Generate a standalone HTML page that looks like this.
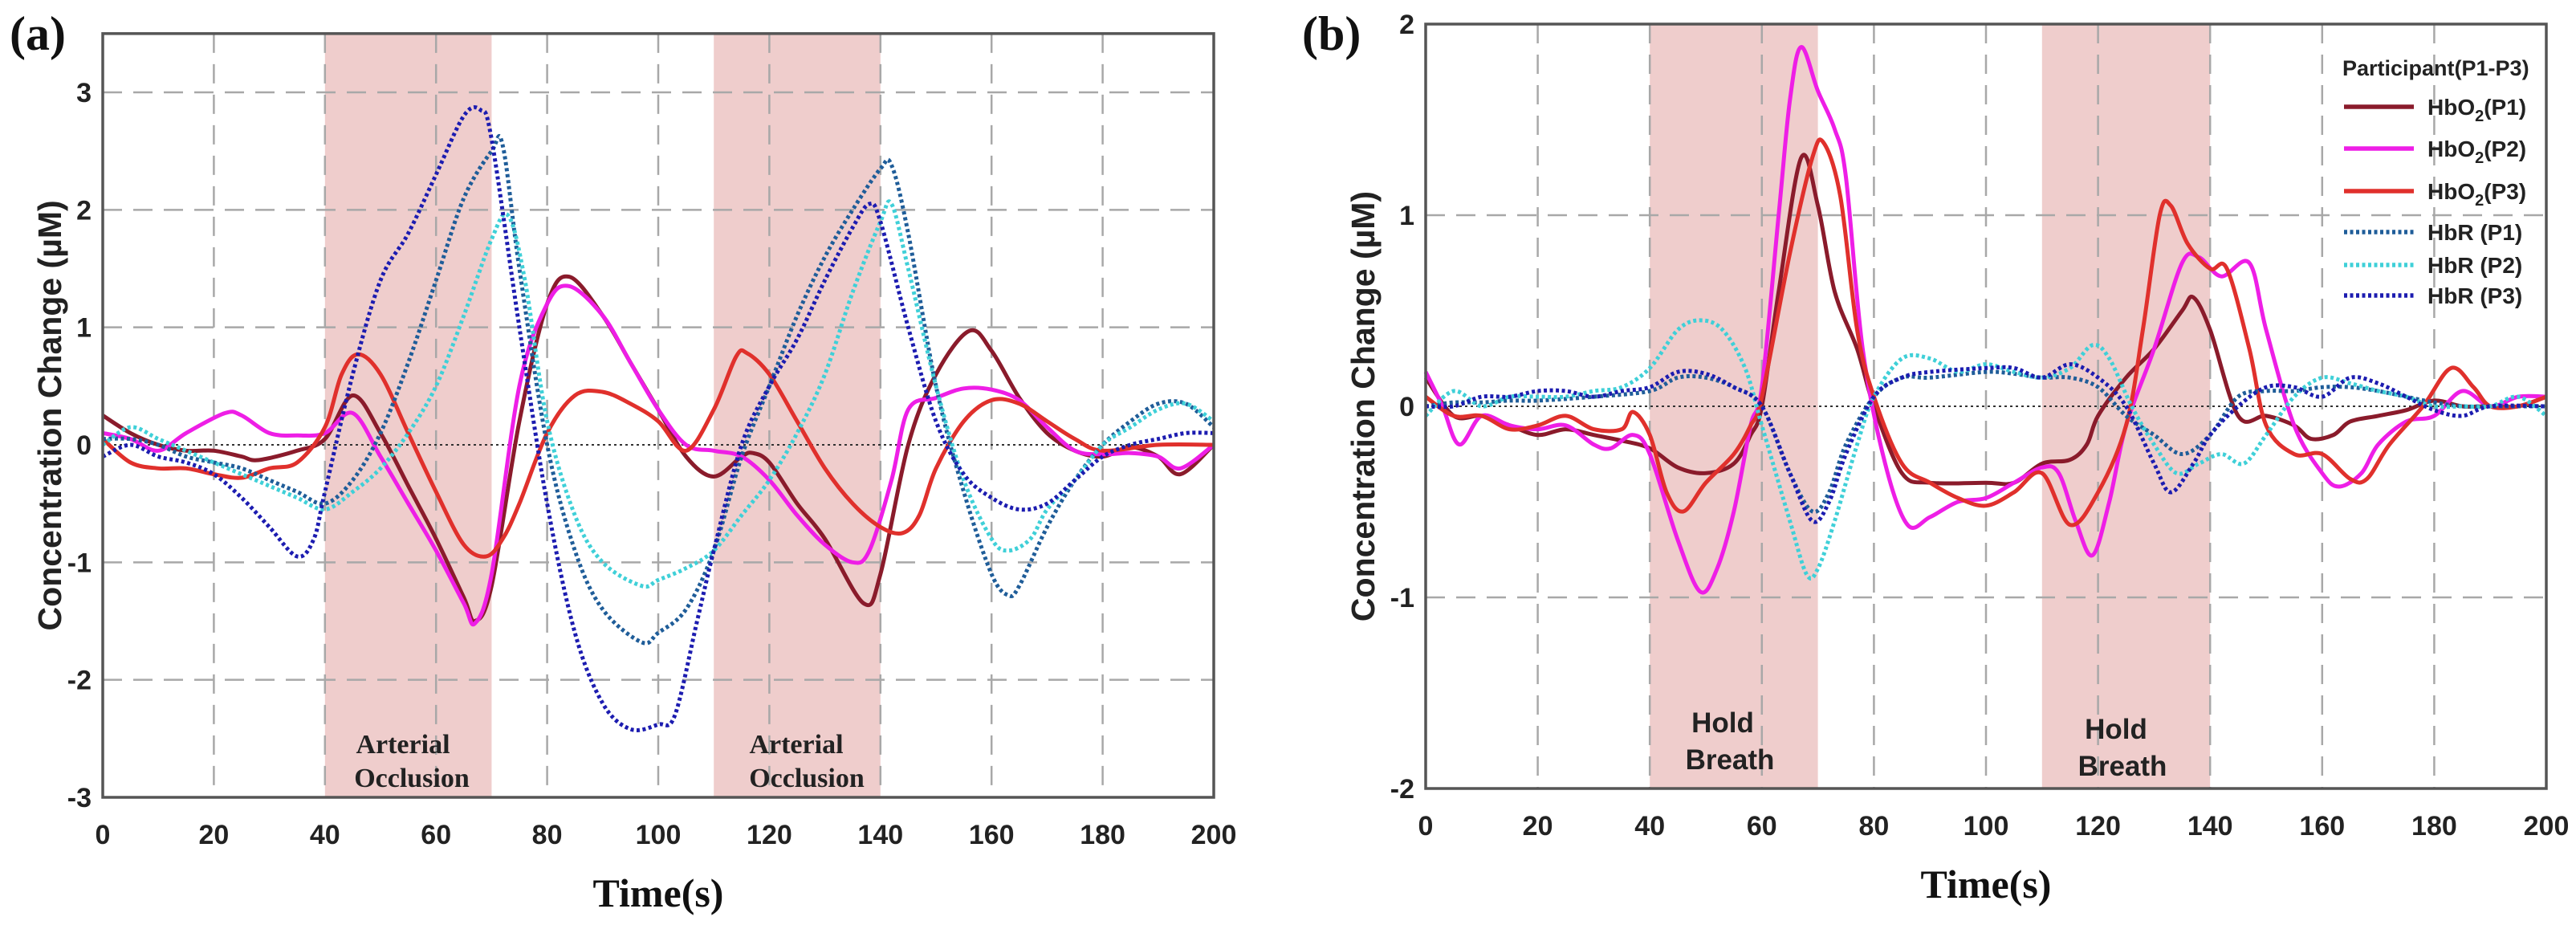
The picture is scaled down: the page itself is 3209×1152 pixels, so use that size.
<!DOCTYPE html>
<html><head><meta charset="utf-8"><style>
body{margin:0;background:#fff;}
svg{display:block;}
</style></head><body>
<svg id="chart" width="3209" height="1152" viewBox="0 0 3209 1152" xmlns="http://www.w3.org/2000/svg"></svg>
<script>
// ---------- Panel (a) data ----------
const aHbO2P1T=[0,5,10,15,20,25,28,35,40,45,50,55,60,65,67,70,75,80,84,90,95,100,105,110,115,117,120,125,130,137,140,145,150,156,160,165,170,175,180,185,190,194,200];
const aHbO2P1V=[0.25,0.1,0,-0.05,-0.05,-0.1,-0.13,-0.05,0.05,0.42,0.1,-0.35,-0.8,-1.3,-1.5,-1.2,0.2,1.2,1.43,1.1,0.7,0.3,-0.1,-0.27,-0.1,-0.07,-0.15,-0.5,-0.8,-1.35,-1.1,0,0.6,0.97,0.8,0.4,0.1,-0.05,-0.1,-0.02,-0.1,-0.25,0];
const aHbO2P2T=[0,5,10,15,22,25,30,35,40,45,50,55,60,65,67,70,75,80,84,90,95,100,105,110,115,120,125,130,135,138,142,145,150,155,160,165,170,175,180,185,190,194,200];
const aHbO2P2V=[0.1,0.05,-0.05,0.1,0.27,0.25,0.1,0.08,0.1,0.27,-0.1,-0.5,-0.9,-1.35,-1.52,-1.1,0.5,1.2,1.35,1.1,0.7,0.3,0,-0.05,-0.1,-0.3,-0.6,-0.85,-1,-0.9,-0.3,0.3,0.4,0.48,0.47,0.38,0.15,-0.05,-0.08,-0.07,-0.1,-0.2,0];
const aHbO2P3T=[0,5,10,15,20,25,30,35,40,43,46,50,55,60,65,69,72,75,80,85,90,95,100,105,110,114,116,120,125,130,135,140,144,147,150,155,160,165,170,175,180,190,200];
const aHbO2P3V=[0.05,-0.15,-0.2,-0.2,-0.25,-0.28,-0.2,-0.15,0.15,0.6,0.77,0.6,0.1,-0.4,-0.85,-0.95,-0.8,-0.5,0.1,0.42,0.45,0.35,0.2,-0.05,0.3,0.75,0.78,0.6,0.2,-0.2,-0.5,-0.7,-0.75,-0.6,-0.2,0.2,0.38,0.35,0.2,0.05,-0.05,0,0];
const aHbRP1T=[0,5,10,15,20,25,30,35,40,45,50,55,60,65,70,72,75,80,85,90,97,100,105,110,115,120,125,130,135,140,142,145,150,155,160,163,165,170,175,180,185,190,195,200];
const aHbRP1V=[0.05,0.05,0,-0.1,-0.15,-0.2,-0.3,-0.4,-0.5,-0.3,0.1,0.7,1.4,2.1,2.5,2.55,1.5,0,-0.9,-1.4,-1.68,-1.6,-1.4,-0.9,-0.1,0.5,1.1,1.6,2,2.35,2.38,1.8,0.5,-0.4,-1.1,-1.28,-1.2,-0.7,-0.3,0,0.2,0.35,0.35,0.15];
const aHbRP2T=[0,5,10,15,20,25,30,35,40,45,50,55,60,65,70,73,76,80,85,90,97,100,105,110,115,120,125,130,135,140,142,145,150,155,160,163,167,170,175,180,185,190,195,200];
const aHbRP2V=[0,0.15,0.05,-0.05,-0.15,-0.25,-0.35,-0.45,-0.55,-0.4,-0.2,0.1,0.5,1.1,1.75,1.95,1.4,0.2,-0.6,-1,-1.2,-1.15,-1.05,-0.9,-0.6,-0.3,0.1,0.6,1.3,1.9,2.05,1.5,0.5,-0.3,-0.8,-0.9,-0.8,-0.55,-0.3,0,0.15,0.3,0.35,0.2];
const aHbRP3T=[0,5,10,15,20,25,30,35,38,40,45,50,55,60,65,68,70,75,80,85,90,95,100,103,107,110,115,120,125,130,135,138,140,145,150,155,160,165,170,175,180,185,190,195,200];
const aHbRP3V=[-0.1,0,-0.1,-0.15,-0.25,-0.45,-0.7,-0.95,-0.8,-0.4,0.6,1.4,1.8,2.3,2.8,2.85,2.6,1,-0.5,-1.6,-2.2,-2.42,-2.38,-2.3,-1.5,-0.9,0,0.5,0.9,1.4,1.85,2.05,1.9,1,0.2,-0.25,-0.45,-0.55,-0.5,-0.3,-0.1,0,0.05,0.1,0.1];
// ---------- Panel (b) data ----------
const bHbO2P1T=[0,5,10,15,20,25,30,35,40,45,50,55,58,60,63,67,70,73,77,80,85,90,100,105,110,115,118,120,125,130,135,137,140,145,150,155,158,162,165,170,175,180,185,190,195,200];
const bHbO2P1V=[0.15,-0.05,-0.05,-0.1,-0.15,-0.12,-0.15,-0.18,-0.22,-0.32,-0.35,-0.3,-0.15,0,0.6,1.3,1.05,0.6,0.3,0,-0.35,-0.4,-0.4,-0.4,-0.3,-0.28,-0.2,-0.05,0.15,0.3,0.5,0.57,0.4,-0.05,-0.05,-0.1,-0.17,-0.15,-0.08,-0.05,-0.02,0.03,0,0,0,0.05];
const bHbO2P2T=[0,3,6,10,15,20,25,30,33,37,40,45,49,52,55,58,60,63,65,67,70,73,75,78,82,86,90,95,100,105,110,113,116,119,122,125,130,135,138,142,147,150,155,160,163,167,170,175,180,185,190,195,200];
const bHbO2P2V=[0.18,0,-0.2,-0.05,-0.1,-0.12,-0.1,-0.2,-0.22,-0.15,-0.25,-0.7,-0.97,-0.85,-0.55,-0.1,0.1,1,1.6,1.88,1.65,1.45,1.2,0.3,-0.3,-0.62,-0.58,-0.5,-0.48,-0.4,-0.32,-0.35,-0.6,-0.78,-0.5,-0.1,0.3,0.75,0.78,0.68,0.75,0.4,-0.1,-0.35,-0.42,-0.35,-0.2,-0.08,-0.05,0.08,0,0.05,0.05];
const bHbO2P3T=[0,5,10,15,20,25,30,35,37,40,43,46,50,55,58,60,65,69,71,74,77,80,85,90,95,100,105,110,115,120,125,128,131,133,136,140,143,147,150,155,160,165,168,172,178,183,187,190,195,200];
const bHbO2P3V=[0.05,-0.05,-0.05,-0.12,-0.1,-0.05,-0.12,-0.12,-0.03,-0.15,-0.45,-0.55,-0.4,-0.25,-0.1,0.05,0.8,1.3,1.38,1.1,0.4,0.05,-0.3,-0.4,-0.48,-0.52,-0.45,-0.35,-0.62,-0.45,-0.1,0.4,1,1.05,0.85,0.72,0.72,0.3,-0.1,-0.25,-0.25,-0.38,-0.38,-0.2,0,0.2,0.1,0,0,0.05];
const bHbRP1T=[0,5,10,15,20,30,40,45,50,55,60,65,69,72,75,80,85,90,100,105,110,115,120,125,130,135,140,145,150,155,160,165,170,175,180,185,190,200];
const bHbRP1V=[0,0.02,0.02,0.03,0.03,0.05,0.08,0.15,0.15,0.1,0,-0.35,-0.55,-0.45,-0.2,0.05,0.15,0.15,0.18,0.17,0.15,0.15,0.1,-0.05,-0.15,-0.25,-0.15,0.05,0.08,0.08,0.1,0.1,0.08,0.05,0.02,0,0,0];
const bHbRP2T=[0,5,10,15,20,25,30,35,40,45,49,53,57,60,65,68,70,73,77,80,85,90,95,100,105,110,115,119,122,126,130,134,138,142,146,150,155,160,165,170,175,180,185,190,195,200];
const bHbRP2V=[-0.05,0.08,0,0.05,0.05,0.05,0.08,0.1,0.2,0.4,0.45,0.4,0.2,-0.1,-0.6,-0.88,-0.85,-0.6,-0.2,0.05,0.25,0.25,0.18,0.22,0.18,0.15,0.2,0.32,0.25,0,-0.2,-0.35,-0.3,-0.25,-0.3,-0.15,0.05,0.15,0.12,0.08,0.05,0,0,0,0.05,-0.05];
const bHbRP3T=[0,5,10,15,20,25,30,35,40,45,50,55,60,65,69,72,75,80,85,90,100,105,110,115,120,125,130,133,137,140,145,150,155,160,165,170,175,180,185,190,200];
const bHbRP3V=[0,0,0.05,0.05,0.08,0.08,0.05,0.08,0.1,0.18,0.17,0.1,0,-0.35,-0.6,-0.5,-0.25,0.05,0.15,0.18,0.2,0.2,0.15,0.22,0.15,0,-0.3,-0.45,-0.3,-0.15,0,0.1,0.1,0.05,0.15,0.12,0.05,-0.02,-0.05,0,0];
const xTicks=[0,20,40,60,80,100,120,140,160,180,200];
const aYTicks=[-3,-2,-1,0,1,2,3];
const bYTicks=[-2,-1,0,1,2];
const bands=[[40,70],[110,140]];
const legendLabels=["HbO","HbO","HbO","HbR  (P1)","HbR  (P2)","HbR  (P3)"];

const NS="http://www.w3.org/2000/svg";
const svg=document.getElementById('chart');
function mk(tag,attrs,parent){const e=document.createElementNS(NS,tag);for(const k in attrs)e.setAttribute(k,attrs[k]);(parent||svg).appendChild(e);return e;}
function smooth(pts){let d=`M${pts[0][0]},${pts[0][1]}`;for(let i=0;i<pts.length-1;i++){const p0=pts[Math.max(0,i-1)],p1=pts[i],p2=pts[i+1],p3=pts[Math.min(pts.length-1,i+2)];const c1x=p1[0]+(p2[0]-p0[0])/6,c1y=p1[1]+(p2[1]-p0[1])/6,c2x=p2[0]-(p3[0]-p1[0])/6,c2y=p2[1]-(p3[1]-p1[1])/6;d+=`C${c1x.toFixed(1)},${c1y.toFixed(1)} ${c2x.toFixed(1)},${c2y.toFixed(1)} ${p2[0].toFixed(1)},${p2[1].toFixed(1)}`;}return d;}
const colors=['#8a1b2b','#ee1ee6','#e0302c','#1f5d99','#3fd0d8','#1c1cb0'];

function panel(cfg){
  const g=mk('g',{});
  
  
  const X=t=>cfg.x0+(t-0)/200*(cfg.x1-cfg.x0);
  const Y=v=>cfg.y0+(cfg.ymax-v)/(cfg.ymax-cfg.ymin)*(cfg.y1-cfg.y0);
  const top=Y(cfg.top);
  bands.forEach((b,i)=>{const r=mk('rect',{x:X(b[0]),y:top,width:X(b[1])-X(b[0]),height:cfg.y1-top,fill:'#efcdcc'},g);
    
    });
  xTicks.forEach(t=>{if(t>0&&t<200){const l=mk('line',{x1:X(t),x2:X(t),y1:top,y2:cfg.y1,stroke:'#a8a8a8','stroke-width':2.5,'stroke-dasharray':'24 14'},g);
    
    }
    const tx=mk('text',{x:X(t),y:cfg.y1+58,'text-anchor':'middle','font-family':'Liberation Sans, sans-serif','font-weight':'bold','font-size':34,fill:'#222'},g);tx.textContent=t;
    
    });
  cfg.yt.forEach(v=>{if(v!==0&&v!==cfg.ymin&&v<cfg.top){const l=mk('line',{x1:cfg.x0,x2:cfg.x1,y1:Y(v),y2:Y(v),stroke:'#a8a8a8','stroke-width':2.5,'stroke-dasharray':'24 14'},g);
    
    }
    const tx=mk('text',{x:cfg.x0-14,y:Y(v)+12,'text-anchor':'end','font-family':'Liberation Sans, sans-serif','font-weight':'bold','font-size':34,fill:'#222'},g);tx.textContent=v;
    
    });
  const z=mk('line',{x1:cfg.x0,x2:cfg.x1,y1:Y(0),y2:Y(0),stroke:'#333','stroke-width':2,'stroke-dasharray':'3 4'},g);
  
  
  cfg.series.forEach((s,i)=>{const pts=s[0].map((t,j)=>[X(t),Y(s[1][j])]);
    const p=mk('path',{d:smooth(pts),fill:'none',stroke:colors[i],'stroke-width':5,'stroke-dasharray':i<3?'none':'4 3.5','stroke-linejoin':'round'},g);
    
    });
  const ax=mk('rect',{x:cfg.x0,y:top,width:cfg.x1-cfg.x0,height:cfg.y1-top,fill:'none',stroke:'#555','stroke-width':3.5},g);
  
  
  const xl=mk('text',{x:(cfg.x0+cfg.x1)/2,y:cfg.y1+136,'text-anchor':'middle','font-family':'Liberation Serif, serif','font-weight':'bold','font-size':50,fill:'#111'},g);xl.textContent='Time(s)';
  
  
  const yc=(top+cfg.y1)/2;
  const yl=mk('text',{x:cfg.ylx,y:yc,'text-anchor':'middle','font-family':'Liberation Sans, sans-serif','font-weight':'bold','font-size':41,fill:'#222',transform:`rotate(-90 ${cfg.ylx} ${yc})`},g);yl.textContent='Concentration Change (µM)';
  
  
  const pl=mk('text',{x:cfg.plx,y:cfg.ply,'font-family':'Liberation Serif, serif','font-weight':'bold','font-size':60,fill:'#111'},g);pl.textContent=cfg.plabel;
  
  
  cfg.ann.forEach((a,i)=>{const t=mk('text',{x:a[0],y:a[1],'text-anchor':'middle','font-family':cfg.annFont,'font-weight':'bold','font-size':cfg.annSize,fill:'#222'},g);t.textContent=a[2];
    
    });
  return {X,Y,g};
}
const sn=['hbo2-p1-line','hbo2-p2-line','hbo2-p3-line','hbr-p1-line','hbr-p2-line','hbr-p3-line'];
panel({name:'panel-a',x0:128,x1:1512,y0:115,y1:993,ymax:3,ymin:-3,top:3.5,yt:aYTicks,ylx:76,plabel:'(a)',plx:12,ply:62,
  annFont:'Liberation Serif, serif',annSize:34,
  ann:[[502,938,'Arterial'],[513,980,'Occlusion'],[992,938,'Arterial'],[1005,980,'Occlusion']],
  series:[[aHbO2P1T,aHbO2P1V],[aHbO2P2T,aHbO2P2V],[aHbO2P3T,aHbO2P3V],[aHbRP1T,aHbRP1V],[aHbRP2T,aHbRP2V],[aHbRP3T,aHbRP3V]],snames:sn});
panel({name:'panel-b',x0:1776,x1:3172,y0:30,y1:982,ymax:2,ymin:-2,top:2,yt:bYTicks,ylx:1712,plabel:'(b)',plx:1622,ply:62,
  annFont:'Liberation Sans, sans-serif',annSize:35,
  ann:[[2146,912,'Hold'],[2155,958,'Breath'],[2636,920,'Hold'],[2644,966,'Breath']],
  series:[[bHbO2P1T,bHbO2P1V],[bHbO2P2T,bHbO2P2V],[bHbO2P3T,bHbO2P3V],[bHbRP1T,bHbRP1V],[bHbRP2T,bHbRP2V],[bHbRP3T,bHbRP3V]],snames:sn});

// legend
const lg=mk('g',{});


const lt=mk('text',{x:2918,y:94,'font-family':'Liberation Sans, sans-serif','font-weight':'bold','font-size':27,fill:'#222'},lg);lt.textContent='Participant(P1-P3)';


const ly=[133,185,238,289,330,368];
legendLabels.forEach((lab,i)=>{
  const l=mk('line',{x1:2920,x2:3007,y1:ly[i],y2:ly[i],stroke:colors[i],'stroke-width':5.5,'stroke-dasharray':i<3?'none':'4 3.5'},lg);
  
  
  const t=mk('text',{x:3024,y:ly[i]+10,'font-family':'Liberation Sans, sans-serif','font-weight':'bold','font-size':28,fill:'#222'},lg);
  
  
  if(i<3){t.textContent=lab;const s=mk('tspan',{dy:8,'font-size':20},t);s.textContent='2';const s2=mk('tspan',{dy:-8},t);s2.textContent='(P'+(i+1)+')';}
  else t.textContent=lab;
});
</script>
</body></html>
